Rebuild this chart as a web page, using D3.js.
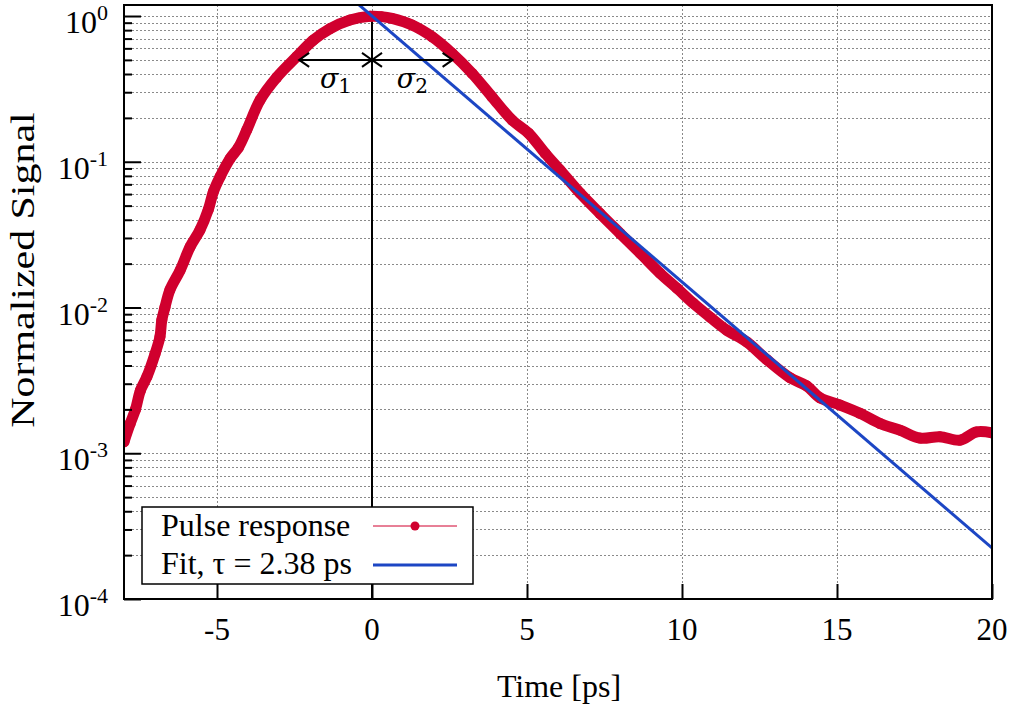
<!DOCTYPE html>
<html>
<head>
<meta charset="utf-8">
<script src="https://cdn.jsdelivr.net/npm/d3@7/dist/d3.min.js"></script>
<style>
  html, body { margin: 0; padding: 0; background: #fff; }
  svg { display: block; font-family: "Liberation Serif", "Times New Roman", serif; }
</style>
</head>
<body>
<svg id="chart" width="1016" height="708"></svg>
<script>
// Measured pulse response (time in ps, normalized signal)
const timePs = [
  -8.0, -7.8, -7.63, -7.47, -7.26, -7.0, -6.84, -6.78, -6.68, -6.52,
  -6.19, -5.87, -5.55, -5.28, -5.12, -4.9, -4.58, -4.31, -4.04, -3.61,
  -3.07, -2.43, -1.89, -1.35, -0.71, -0.06, 0.3, 0.645, 1.29, 1.94,
  2.58, 3.23, 3.87, 4.52, 5.05, 5.59, 6.06, 6.71, 7.35, 8.0,
  8.65, 9.29, 9.83, 10.36, 10.9, 11.44, 12.09, 12.73, 13.48, 14.02,
  14.45, 15.1, 15.74, 16.39, 17.03, 17.68, 18.32, 18.97, 19.5, 20.0
];
const signal = [
  0.0012, 0.0016, 0.0020, 0.0027, 0.00335, 0.0048, 0.0063, 0.0082, 0.0100, 0.0132,
  0.018, 0.026, 0.034, 0.047, 0.062, 0.079, 0.105, 0.125, 0.165, 0.265,
  0.38, 0.526, 0.684, 0.82, 0.94, 0.995, 0.99, 0.963, 0.867, 0.72,
  0.555, 0.404, 0.279, 0.193, 0.157, 0.114, 0.088, 0.061, 0.0443, 0.0323,
  0.0236, 0.0172, 0.0136, 0.0107, 0.0086, 0.0070, 0.0058, 0.0044, 0.0033, 0.0029,
  0.0024, 0.00214, 0.00188, 0.0016, 0.00144, 0.00127, 0.0013, 0.00123, 0.0014, 0.00138
];

// Exponential fit exp(-t / tau)
const tau = 2.38;
const fitTimes = [-0.5, 20];

// Pulse widths marked at half maximum
const sigmaLeft = -2.35;
const sigmaRight = 2.6;
const halfMax = 0.5;

// Axis ticks
const xTicks = [-5, 0, 5, 10, 15, 20];
const xGridTicks = [-5, 0, 5, 10, 15];
const yExponents = [0, -1, -2, -3, -4];

const legendLabels = ["Pulse response", "Fit, \u03C4 = 2.38 ps"];

const red = "#d0002e";
const blue = "#1c46c4";

const svg = d3.select("#chart");
const plotL = 124, plotR = 992, plotT = 5, plotB = 599;

const x = d3.scaleLinear().domain([-8, 20]).range([plotL, plotR]);
const y = d3.scaleLog().domain([1e-4, 1.19]).range([plotB, plotT]);

// minor & major log ticks
const majorY = yExponents.map(e => Math.pow(10, e));
const minorY = [];
for (let e = -4; e < 0; e++) {
  for (let m = 2; m <= 9; m++) minorY.push(m * Math.pow(10, e));
}

svg.append("defs").append("clipPath").attr("id", "plotClip")
  .append("rect").attr("x", plotL).attr("y", plotT)
  .attr("width", plotR - plotL).attr("height", plotB - plotT);

// Grid
const grid = svg.append("g").attr("stroke", "#8a8a8a").attr("stroke-width", 1)
  .attr("stroke-dasharray", "2,2").attr("fill", "none");
grid.selectAll("line.h").data(majorY.concat(minorY).filter(v => v > 1e-4)).join("line")
  .attr("class", "h")
  .attr("x1", plotL).attr("x2", plotR)
  .attr("y1", d => Math.round(y(d)) + 0.5).attr("y2", d => Math.round(y(d)) + 0.5);
grid.selectAll("line.v").data(xGridTicks).join("line")
  .attr("class", "v")
  .attr("x1", d => Math.round(x(d)) + 0.5).attr("x2", d => Math.round(x(d)) + 0.5)
  .attr("y1", plotT).attr("y2", plotB);

// Peak marker line at t = 0
svg.append("line")
  .attr("x1", x(0)).attr("x2", x(0))
  .attr("y1", y(1)).attr("y2", plotB)
  .attr("stroke", "#000").attr("stroke-width", 2);

const plot = svg.append("g").attr("clip-path", "url(#plotClip)");

// Pulse response
const pulse = timePs.map((t, i) => [t, signal[i]]);
const line = d3.line().x(d => x(d[0])).y(d => y(d[1])).curve(d3.curveCatmullRom);
plot.append("path").datum(pulse)
  .attr("d", line)
  .attr("fill", "none").attr("stroke", red)
  .attr("stroke-width", 11).attr("stroke-linejoin", "round").attr("stroke-linecap", "round");
plot.selectAll("circle.pt").data(pulse).join("circle")
  .attr("class", "pt")
  .attr("cx", d => x(d[0])).attr("cy", d => y(d[1])).attr("r", 5.5).attr("fill", red);

// Fit
const fit = fitTimes.map(t => [t, Math.exp(-t / tau)]);
plot.append("path").datum(fit)
  .attr("d", d3.line().x(d => x(d[0])).y(d => y(d[1])))
  .attr("fill", "none").attr("stroke", blue).attr("stroke-width", 3);

// Sigma arrows
const arrowY = y(halfMax);
const arrows = svg.append("g").attr("stroke", "#000").attr("stroke-width", 2).attr("fill", "none");
function arrow(x1, x2) {
  arrows.append("line").attr("x1", x1).attr("x2", x2).attr("y1", arrowY).attr("y2", arrowY);
  [[x1, 1], [x2, -1]].forEach(([px, dir]) => {
    arrows.append("path")
      .attr("d", `M${px + dir * 10},${arrowY - 7} L${px},${arrowY} L${px + dir * 10},${arrowY + 7}`);
  });
}
arrow(x(sigmaLeft), x(0));
arrow(x(0), x(sigmaRight));

function sigmaLabel(cx, sub) {
  const t = svg.append("text").attr("x", cx).attr("y", 88)
    .attr("text-anchor", "middle").attr("font-family", "'DejaVu Serif', serif")
    .attr("font-size", 27).attr("fill", "#000");
  t.append("tspan").attr("font-style", "italic").text("\u03C3");
  t.append("tspan").attr("font-size", 20).attr("dy", 5).text(sub);
}
sigmaLabel(x(sigmaLeft / 2), "1");
sigmaLabel(x(sigmaRight / 2), "2");

// Legend
const lg = svg.append("g");
lg.append("rect").attr("x", 142).attr("y", 507).attr("width", 331).attr("height", 77)
  .attr("fill", "#fff").attr("stroke", "#000").attr("stroke-width", 1.5);
lg.selectAll("text").data(legendLabels).join("text")
  .attr("x", 161).attr("y", (d, i) => 536 + i * 38)
  .attr("font-size", 32).attr("fill", "#000").text(d => d);
lg.append("line").attr("x1", 373).attr("x2", 457).attr("y1", 526).attr("y2", 526)
  .attr("stroke", red).attr("stroke-width", 1);
lg.append("circle").attr("cx", 415).attr("cy", 526).attr("r", 4.5).attr("fill", red);
lg.append("line").attr("x1", 373).attr("x2", 457).attr("y1", 565).attr("y2", 565)
  .attr("stroke", blue).attr("stroke-width", 3);

// Frame
svg.append("rect").attr("x", plotL).attr("y", plotT)
  .attr("width", plotR - plotL).attr("height", plotB - plotT)
  .attr("fill", "none").attr("stroke", "#000").attr("stroke-width", 2);

// Axes (inward ticks)
const yAxisMajor = d3.axisLeft(y).tickValues(majorY).tickSize(-17).tickFormat("");
const yAxisMinor = d3.axisLeft(y).tickValues(minorY).tickSize(-8).tickFormat("");
[yAxisMajor, yAxisMinor].forEach(ax => {
  const g = svg.append("g").attr("transform", `translate(${plotL},0)`).call(ax);
  g.select(".domain").remove();
  g.selectAll(".tick line").attr("stroke", "#000").attr("stroke-width", 2);
});
const xAxis = d3.axisBottom(x).tickValues(xTicks).tickSize(-15).tickFormat("");
const gx = svg.append("g").attr("transform", `translate(0,${plotB})`).call(xAxis);
gx.select(".domain").remove();
gx.selectAll(".tick line").attr("stroke", "#000").attr("stroke-width", 2);

// Tick labels
svg.append("g").selectAll("text").data(xTicks).join("text")
  .attr("x", d => x(d)).attr("y", 640)
  .attr("text-anchor", "middle").attr("font-size", 31).attr("fill", "#000")
  .text(d => d < 0 ? "-" + Math.abs(d) : d);

const yl = svg.append("g").selectAll("text").data(yExponents).join("text")
  .attr("x", 108).attr("y", d => y(Math.pow(10, d)) + 17)
  .attr("text-anchor", "end").attr("font-size", 32).attr("fill", "#000");
yl.append("tspan").text("10");
yl.append("tspan").attr("font-size", 22).attr("dy", -13).text(d => d === 0 ? "0" : "-" + Math.abs(d));

// Axis titles
svg.append("text").attr("x", 559).attr("y", 697).attr("text-anchor", "middle")
  .attr("font-size", 32).attr("fill", "#000").text("Time [ps]");
svg.append("text")
  .attr("transform", "translate(34,270) rotate(-90) scale(1.27,1)")
  .attr("text-anchor", "middle").attr("font-size", 33).attr("fill", "#000")
  .text("Normalized Signal");
</script>
</body>
</html>
